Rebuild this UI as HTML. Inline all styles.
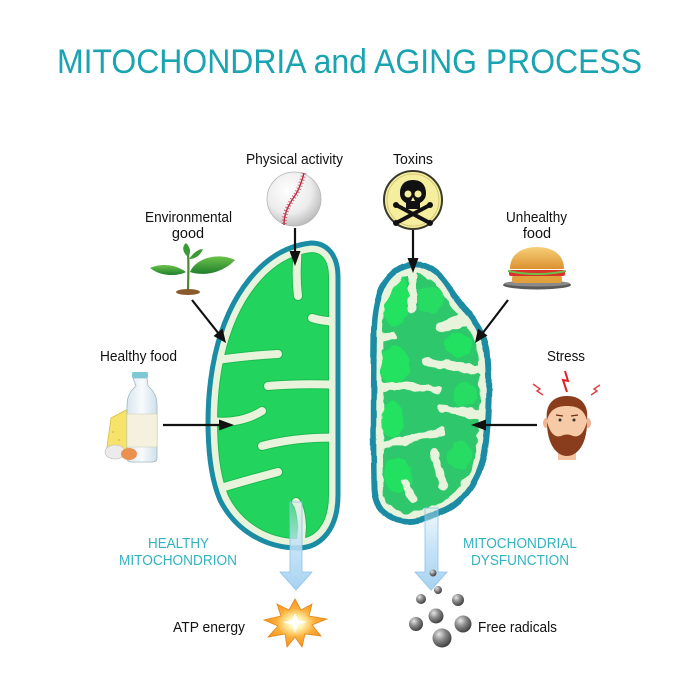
<!DOCTYPE html>
<html><head><meta charset="utf-8">
<style>
html,body{margin:0;padding:0;background:#fff;}
svg{display:block;}
text{font-family:"Liberation Sans",Arial,sans-serif;}
</style></head>
<body>
<svg width="700" height="700" viewBox="0 0 700 700" xmlns="http://www.w3.org/2000/svg">
<defs>
  <path id="pL" d="M311 243 C328 243 338 256 338 277 L338 495 C338 530 320 548 298 548 C265 548 235 530 220 500 C205 465 205 400 215 355 C228 297 262 248 311 243 Z"/>
  <path id="pR" d="M410 265 C425 262 440 270 452 292 C465 312 482 325 487 350 C490 380 489 420 485 450 C480 480 462 505 440 512 C425 520 410 524 398 520 C383 515 375 505 374 490 C373 450 373 400 374 330 C375 295 385 270 410 265 Z"/>
  <clipPath id="clipL"><use href="#pL"/></clipPath>
  <clipPath id="clipR"><use href="#pR"/></clipPath>
  <filter id="rough" x="-10%" y="-10%" width="120%" height="120%">
    <feTurbulence type="fractalNoise" baseFrequency="0.09" numOctaves="2" seed="3"/>
    <feDisplacementMap in="SourceGraphic" scale="7" xChannelSelector="R" yChannelSelector="G"/>
  </filter>
  <filter id="rough2" x="-10%" y="-10%" width="120%" height="120%">
    <feTurbulence type="fractalNoise" baseFrequency="0.05" numOctaves="1" seed="7"/>
    <feDisplacementMap in="SourceGraphic" scale="4" xChannelSelector="R" yChannelSelector="G"/>
  </filter>
  <linearGradient id="blueArr" x1="0" y1="500" x2="0" y2="590" gradientUnits="userSpaceOnUse">
    <stop offset="0" stop-color="#cfe8f8" stop-opacity="0.2"/>
    <stop offset="0.5" stop-color="#bfe0f6" stop-opacity="0.85"/>
    <stop offset="1" stop-color="#a6d2f1"/>
  </linearGradient>
  <radialGradient id="sph" cx="0.35" cy="0.3" r="0.75">
    <stop offset="0" stop-color="#e6e6e6"/>
    <stop offset="0.45" stop-color="#8a8a8a"/>
    <stop offset="1" stop-color="#3a3a3a"/>
  </radialGradient>
  <radialGradient id="ball" cx="0.4" cy="0.35" r="0.7">
    <stop offset="0" stop-color="#ffffff"/>
    <stop offset="0.6" stop-color="#ececec"/>
    <stop offset="1" stop-color="#b8b8b8"/>
  </radialGradient>
  <linearGradient id="bun" x1="0" y1="0" x2="0" y2="1">
    <stop offset="0" stop-color="#f6cf78"/>
    <stop offset="1" stop-color="#dc9130"/>
  </linearGradient>
  <linearGradient id="leaf" x1="0" y1="0" x2="0" y2="1">
    <stop offset="0" stop-color="#6cc24a"/>
    <stop offset="1" stop-color="#1f7f2c"/>
  </linearGradient>
  <linearGradient id="bottle" x1="0" y1="0" x2="1" y2="0">
    <stop offset="0" stop-color="#d8e6ef"/>
    <stop offset="0.5" stop-color="#f7fbfd"/>
    <stop offset="1" stop-color="#cfdfea"/>
  </linearGradient>
  <radialGradient id="starG" cx="0.5" cy="0.5" r="0.5">
    <stop offset="0" stop-color="#ffffff"/>
    <stop offset="0.25" stop-color="#fff3b0"/>
    <stop offset="0.6" stop-color="#fbb03b"/>
    <stop offset="1" stop-color="#f7901e"/>
  </radialGradient>
</defs>

<!-- Title -->
<text x="57" y="73" font-size="34" fill="#1aa3b1" textLength="585" lengthAdjust="spacingAndGlyphs">MITOCHONDRIA and AGING PROCESS</text>

<!-- LEFT MITOCHONDRION -->
<g clip-path="url(#clipL)">
  <rect x="200" y="235" width="145" height="320" fill="#22d45e"/>
  <g fill="none" stroke-linecap="round" stroke="#1bbb50" stroke-width="10">
    <path d="M298 240 L297 262 Q296 280 298 296"/>
    <path d="M345 322 Q325 322 312 318"/>
    <path d="M205 362 Q240 356 278 354"/>
    <path d="M345 385 Q300 383 268 386"/>
    <path d="M204 420 Q238 426 262 411"/>
    <path d="M345 438 Q300 436 262 446"/>
    <path d="M208 492 Q240 482 278 472"/>
    <path d="M300 552 L302 527 Q301 508 296 502"/>
  </g>
  <use href="#pL" fill="none" stroke="#1bbb50" stroke-width="20"/>
  <use href="#pL" fill="none" stroke="#e7f3da" stroke-width="18"/>
  <g fill="none" stroke-linecap="round" stroke="#e7f3da" stroke-width="8">
    <path d="M298 240 L297 262 Q296 280 298 296"/>
    <path d="M345 322 Q325 322 312 318"/>
    <path d="M205 362 Q240 356 278 354"/>
    <path d="M345 385 Q300 383 268 386"/>
    <path d="M204 420 Q238 426 262 411"/>
    <path d="M345 438 Q300 436 262 446"/>
    <path d="M208 492 Q240 482 278 472"/>
    <path d="M300 552 L302 527 Q301 508 296 502"/>
  </g>
</g>
<use href="#pL" fill="none" stroke="#1a8ca4" stroke-width="5"/>

<!-- RIGHT MITOCHONDRION -->
<g clip-path="url(#clipR)">
  <rect x="365" y="255" width="135" height="275" fill="#2ec76b"/>
  <g filter="url(#rough)">
    <ellipse cx="395" cy="300" rx="14" ry="26" fill="#20e25e"/>
    <ellipse cx="430" cy="300" rx="14" ry="14" fill="#26dc62"/>
    <ellipse cx="395" cy="365" rx="14" ry="20" fill="#20e25e"/>
    <ellipse cx="458" cy="345" rx="14" ry="12" fill="#22e060"/>
    <ellipse cx="392" cy="420" rx="12" ry="18" fill="#20e25e"/>
    <ellipse cx="465" cy="395" rx="12" ry="12" fill="#25dc62"/>
    <ellipse cx="398" cy="475" rx="14" ry="18" fill="#22e060"/>
    <ellipse cx="460" cy="455" rx="12" ry="14" fill="#25dc62"/>
    <use href="#pR" fill="none" stroke="#e7f3da" stroke-width="18"/>
    <g fill="none" stroke="#e7f3da" stroke-linecap="round">
      <path d="M412 262 L412 308" stroke-width="8"/>
      <path d="M495 318 Q465 318 440 328" stroke-width="11"/>
      <path d="M368 338 L393 336" stroke-width="7"/>
      <path d="M495 372 Q460 368 428 362" stroke-width="9"/>
      <path d="M368 388 Q410 384 438 390" stroke-width="8"/>
      <path d="M495 418 Q465 412 442 408" stroke-width="8"/>
      <path d="M368 448 Q410 440 442 432" stroke-width="8"/>
      <path d="M433 452 Q440 470 443 487" stroke-width="8"/>
      <path d="M405 483 L413 500" stroke-width="7"/>
    </g>
  </g>
</g>
<g filter="url(#rough2)">
  <use href="#pR" fill="none" stroke="#1a8ca4" stroke-width="6"/>
</g>

<!-- Blue arrows -->
<path d="M290 502 L302 502 L302 572 L312 572 L296 590 L280 572 L290 572 Z" fill="url(#blueArr)" stroke="#8cc3e6" stroke-width="0.8"/>
<path d="M425 508 L438 508 L438 572 L447 572 L431 590 L415 572 L425 572 Z" fill="url(#blueArr)" stroke="#8cc3e6" stroke-width="0.8"/>

<!-- Black arrows -->
<g stroke="#111" stroke-width="2.2" fill="none">
  <line x1="295" y1="228" x2="295" y2="254"/>
  <line x1="192" y1="300" x2="219" y2="334"/>
  <line x1="163" y1="425" x2="222" y2="425"/>
  <line x1="413" y1="230" x2="413" y2="261"/>
  <line x1="508" y1="300" x2="482" y2="334"/>
  <line x1="537" y1="425" x2="483" y2="425"/>
</g>
<g fill="#111">
  <polygon points="295,266 289.5,251 300.5,251"/>
  <polygon points="226,343 213.5,336 222.5,328.5"/>
  <polygon points="234,425 219,419.5 219,430.5"/>
  <polygon points="413,273 407.5,258 418.5,258"/>
  <polygon points="475,343 478,328.5 487.5,335.5"/>
  <polygon points="471,425 486,419.5 486,430.5"/>
</g>

<!-- Baseball -->
<circle cx="294" cy="199" r="27" fill="url(#ball)" stroke="#b5b5b5" stroke-width="0.8"/>
<path d="M304 173 C300 188 297 193 292 200 C287 208 284 215 284 225" fill="none" stroke="#b8263a" stroke-width="1.4"/>
<path d="M304 173 C300 188 297 193 292 200 C287 208 284 215 284 225" fill="none" stroke="#c8485a" stroke-width="5" stroke-dasharray="1 2.2" opacity="0.8"/>

<!-- Skull badge -->
<circle cx="413" cy="200" r="29" fill="#f5ee9f" stroke="#3b3a2a" stroke-width="2"/>
<circle cx="413" cy="200" r="26" fill="none" stroke="#c9c070" stroke-width="0.8"/>
<g fill="#111" stroke="#111">
  <line x1="398" y1="206" x2="428" y2="222" stroke-width="4" stroke-linecap="round"/>
  <line x1="428" y1="206" x2="398" y2="222" stroke-width="4" stroke-linecap="round"/>
  <circle cx="396" cy="205" r="2.5"/>
  <circle cx="430" cy="205" r="2.5"/><circle cx="396" cy="223" r="2.5"/><circle cx="430" cy="223" r="2.5"/>
</g>
<path d="M413 180 C403 180 400 187 400 193 C400 199 403 201 406 203 L406 209 L420 209 L420 203 C423 201 426 199 426 193 C426 187 423 180 413 180 Z" fill="#111"/>
<circle cx="408" cy="194" r="3.5" fill="#f5ee9f"/>
<circle cx="418" cy="194" r="3.5" fill="#f5ee9f"/>
<path d="M411 201 L413 197 L415 201 Z" fill="#f5ee9f"/>

<!-- Plant -->
<path d="M188 292 C188 280 189 268 188 252" stroke="#4a8a2a" stroke-width="2.2" fill="none"/>
<ellipse cx="188" cy="292" rx="12" ry="3" fill="#8a5a2b"/>
<path d="M190 272 C196 258 218 252 235 260 C224 272 205 277 190 272 Z" fill="url(#leaf)"/>
<path d="M186 272 C176 264 160 263 150 268 C160 276 176 277 186 272 Z" fill="url(#leaf)"/>
<path d="M188 257 C182 252 182 246 186 243 C191 248 191 253 188 257 Z" fill="#3c9a36"/>
<path d="M189 259 C194 252 199 249 203 249 C200 256 195 259 189 259 Z" fill="#3c9a36"/>

<!-- Bottle, cheese, eggs -->
<path d="M111 418 L128 409 L129 452 L106 454 Z" fill="#f6e36c" stroke="#d9bd3f" stroke-width="0.8"/>
<circle cx="113" cy="432" r="1" fill="#e0c244"/><circle cx="119" cy="440" r="1" fill="#e0c244"/>
<path d="M133 378 L147 378 L148 386 C155 392 157 398 157 406 L157 458 C157 461 155 462 152 462 L132 462 C129 462 127 461 127 458 L127 406 C127 398 129 392 136 386 Z" fill="url(#bottle)" stroke="#9fb5c3" stroke-width="0.8"/>
<rect x="132" y="372" width="16" height="6" rx="1.5" fill="#7ec8d6"/>
<rect x="127" y="414" width="30" height="33" fill="#f4f2df" stroke="#c9c9b0" stroke-width="0.5"/>
<ellipse cx="115" cy="452" rx="10" ry="7" fill="#eceaea" stroke="#bbb" stroke-width="0.6"/>
<ellipse cx="129" cy="454" rx="8" ry="6" fill="#ea9150"/>

<!-- Burger -->
<ellipse cx="537" cy="285" rx="34" ry="4.5" fill="#5a5a5a"/>
<ellipse cx="537" cy="283.5" rx="33" ry="3" fill="#8a8a8a"/>
<rect x="512" y="275" width="50" height="8" rx="3" fill="#e2a03c"/>
<rect x="509" y="270" width="56" height="6" rx="2" fill="#d9312c"/>
<path d="M508 270 Q537 276 566 270 L566 272 Q537 278 508 272 Z" fill="#6cc04a"/>
<path d="M510 269 C510 254 522 247 537 247 C552 247 564 254 564 269 Z" fill="url(#bun)"/>

<!-- Face -->
<path d="M567 392 L563 380 L568 381 L565 371" fill="none" stroke="#e02020" stroke-width="2"/>
<path d="M543 395 L537 391 L540 389 L533 384" fill="none" stroke="#e04040" stroke-width="1.4"/>
<path d="M591 395 L597 391 L594 389 L600 385" fill="none" stroke="#e04040" stroke-width="1.4"/>
<rect x="558" y="448" width="18" height="12" fill="#f4c4a2"/>
<ellipse cx="546" cy="423" rx="3" ry="5" fill="#eeb592"/>
<ellipse cx="588" cy="423" rx="3" ry="5" fill="#eeb592"/>
<ellipse cx="567" cy="424" rx="20" ry="26" fill="#f6c9a7"/>
<path d="M547 420 C545 405 553 396 567 396 C581 396 589 405 587 420 C584 410 578 406 567 406 C556 406 550 410 547 420 Z" fill="#8a3d1c"/>
<path d="M547 422 C547 445 557 456 567 456 C577 456 587 445 587 422 C584 432 580 438 573 436 C569 434 565 434 561 436 C554 438 550 432 547 422 Z" fill="#8a3d1c"/>
<circle cx="560" cy="420" r="1.5" fill="#333"/>
<circle cx="574" cy="420" r="1.5" fill="#333"/>
<path d="M556 415 L563 416 M571 416 L578 415" stroke="#6a2e14" stroke-width="1.2"/>

<!-- Star (ATP) -->
<g transform="translate(295,623)">
  <polygon points="0,-24 6,-13 17,-19 14,-7 32,-4 17,2 26,13 10,11 7,24 0,14 -8,24 -10,11 -27,14 -17,3 -31,-3 -14,-7 -18,-19 -6,-13" fill="url(#starG)" stroke="#e8851a" stroke-width="0.8"/>
  <polygon points="0,-10 3,-3 12,-1 3,2 0,10 -3,2 -12,-1 -3,-3" fill="#ffffff" opacity="0.9"/>
</g>

<!-- Free radicals -->
<circle cx="433" cy="573" r="3.5" fill="url(#sph)"/>
<circle cx="438" cy="590" r="4" fill="url(#sph)"/>
<circle cx="421" cy="599" r="5" fill="url(#sph)"/>
<circle cx="458" cy="600" r="6" fill="url(#sph)"/>
<circle cx="436" cy="616" r="7.5" fill="url(#sph)"/>
<circle cx="416" cy="624" r="7" fill="url(#sph)"/>
<circle cx="463" cy="624" r="8.5" fill="url(#sph)"/>
<circle cx="442" cy="638" r="9.5" fill="url(#sph)"/>

<!-- Labels -->
<g fill="#111" font-size="14.5">
  <text x="246" y="164" textLength="97" lengthAdjust="spacingAndGlyphs">Physical activity</text>
  <text x="393" y="164" textLength="40" lengthAdjust="spacingAndGlyphs">Toxins</text>
  <text x="145" y="222" textLength="87" lengthAdjust="spacingAndGlyphs">Environmental</text>
  <text x="188" y="238" text-anchor="middle">good</text>
  <text x="506" y="222" textLength="61" lengthAdjust="spacingAndGlyphs">Unhealthy</text>
  <text x="537" y="238" text-anchor="middle">food</text>
  <text x="100" y="361" textLength="77" lengthAdjust="spacingAndGlyphs">Healthy food</text>
  <text x="547" y="361" textLength="38" lengthAdjust="spacingAndGlyphs">Stress</text>
  <text x="173" y="632" textLength="72" lengthAdjust="spacingAndGlyphs">ATP energy</text>
  <text x="478" y="632" textLength="79" lengthAdjust="spacingAndGlyphs">Free radicals</text>
</g>
<g fill="#33b3c0" font-size="14.5">
  <text x="148" y="548" textLength="61" lengthAdjust="spacingAndGlyphs">HEALTHY</text>
  <text x="119" y="565" textLength="118" lengthAdjust="spacingAndGlyphs">MITOCHONDRION</text>
  <text x="463" y="548" textLength="114" lengthAdjust="spacingAndGlyphs">MITOCHONDRIAL</text>
  <text x="471" y="565" textLength="98" lengthAdjust="spacingAndGlyphs">DYSFUNCTION</text>
</g>
</svg>
</body></html>
